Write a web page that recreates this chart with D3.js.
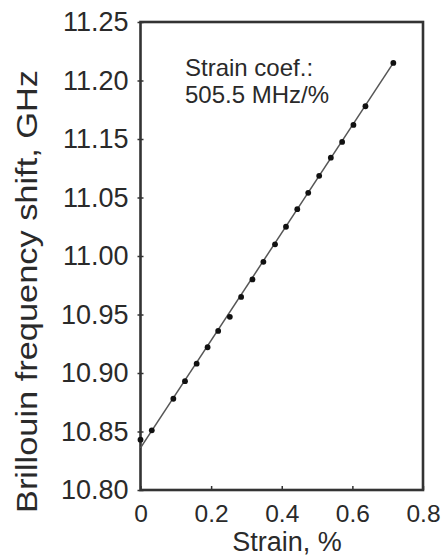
<!DOCTYPE html>
<html>
<head>
<meta charset="utf-8">
<script src="https://cdn.jsdelivr.net/npm/d3@7"></script>
<style>
  html, body { margin: 0; padding: 0; background: #fff; }
  svg { display: block; }
  text { font-family: "Liberation Sans", Arial, sans-serif; fill: #2a2a2a; }
</style>
</head>
<body>
<svg id="chart" width="448" height="557"></svg>
<script>
// ---- data ----
const strain = [0.000, 0.032, 0.093, 0.126, 0.159, 0.190, 0.220, 0.253, 0.285, 0.317, 0.348,
                0.381, 0.412, 0.444, 0.475, 0.506, 0.539, 0.571, 0.603, 0.637, 0.716];
const shift  = [10.843, 10.851, 10.878, 10.893, 10.908, 10.922, 10.936, 10.948, 10.965, 10.980, 10.995,
                11.010, 11.025, 11.040, 11.058, 11.087, 11.118, 11.145, 11.162, 11.178, 11.215];
const fitStrain = [0.000, 0.716];
const fitShift  = [10.836, 11.215];

const xTickValues = [0, 0.2, 0.4, 0.6, 0.8];
const xTickLabels = ["0", "0.2", "0.4", "0.6", "0.8"];
// tick labels exactly as printed on the original axis (evenly spaced)
const yTickValues = [10.80, 10.85, 10.90, 10.95, 11.00, 11.05, 11.15, 11.20, 11.25];
const yTickLabels = ["10.80", "10.85", "10.90", "10.95", "11.00", "11.05", "11.15", "11.20", "11.25"];

const xTitle = "Strain, %";
const yTitle = "Brillouin frequency shift, GHz";
const noteLines = ["Strain coef.:", "505.5 MHz/%"];

// ---- layout ----
const mLeft = 140.5, mRight = 423, mTop = 22, mBottom = 490;
const svg = d3.select("#chart");

const x = d3.scaleLinear().domain([0, 0.8]).range([mLeft, mRight]);
const yRange = yTickValues.map((d, i) => mBottom - i * (mBottom - mTop) / (yTickValues.length - 1));
const y = d3.scaleLinear().domain(yTickValues).range(yRange);

const ink = "#333";
const txt = "#2a2a2a";

// axes
const xAxis = d3.axisBottom(x).tickValues(xTickValues)
  .tickFormat((d, i) => xTickLabels[i]).tickSizeInner(-4).tickSizeOuter(0).tickPadding(10);
const gx = svg.append("g").attr("transform", `translate(0,${mBottom})`).call(xAxis);
gx.select(".domain").remove();
gx.selectAll(".tick line").attr("stroke", ink).attr("stroke-width", 1.5);
gx.selectAll(".tick text").attr("font-size", 24.5).attr("fill", txt)
  .attr("font-family", "Liberation Sans, Arial, sans-serif").attr("dy", "0.72em")
  .attr("y", 14);

const yAxis = d3.axisLeft(y).tickValues(yTickValues)
  .tickFormat((d, i) => yTickLabels[i]).tickSizeInner(3).tickSizeOuter(0).tickPadding(9);
const gy = svg.append("g").attr("transform", `translate(${mLeft},0)`).call(yAxis);
gy.select(".domain").remove();
gy.selectAll(".tick line").attr("stroke", ink).attr("stroke-width", 1.5).attr("x2", 3).attr("x1", -3);
gy.selectAll(".tick text").attr("font-size", 27).attr("fill", txt)
  .attr("font-family", "Liberation Sans, Arial, sans-serif").attr("x", -12);

// frame
svg.append("rect")
  .attr("x", x(0)).attr("y", y(11.25))
  .attr("width", x(0.8) - x(0)).attr("height", y(10.80) - y(11.25))
  .attr("fill", "none").attr("stroke", ink).attr("stroke-width", 2.6);

// fit line
const fit = fitStrain.map((d, i) => [d, fitShift[i]]);
svg.append("path")
  .datum(fit)
  .attr("d", d3.line().x(d => x(d[0])).y(d => y(d[1])))
  .attr("fill", "none").attr("stroke", "#555").attr("stroke-width", 1.5);

// points
svg.append("g").selectAll("circle")
  .data(strain.map((d, i) => [d, shift[i]]))
  .join("circle")
  .attr("cx", d => x(d[0])).attr("cy", d => y(d[1]))
  .attr("r", 2.9).attr("fill", "#111");

// annotation
svg.append("text").attr("x", 185).attr("y", 76).attr("font-size", 24)
  .selectAll("tspan").data(noteLines).join("tspan")
  .attr("x", 185).attr("dy", (d, i) => i === 0 ? 0 : 27).text(d => d);

// titles
svg.append("text").attr("x", 287).attr("y", 551).attr("text-anchor", "middle")
  .attr("font-size", 27).text(xTitle);
svg.append("text")
  .attr("transform", `translate(37,${(70 + 513) / 2}) rotate(-90)`)
  .attr("text-anchor", "middle").attr("font-size", 30)
  .attr("textLength", 443).attr("lengthAdjust", "spacingAndGlyphs")
  .text(yTitle);
</script>
</body>
</html>
